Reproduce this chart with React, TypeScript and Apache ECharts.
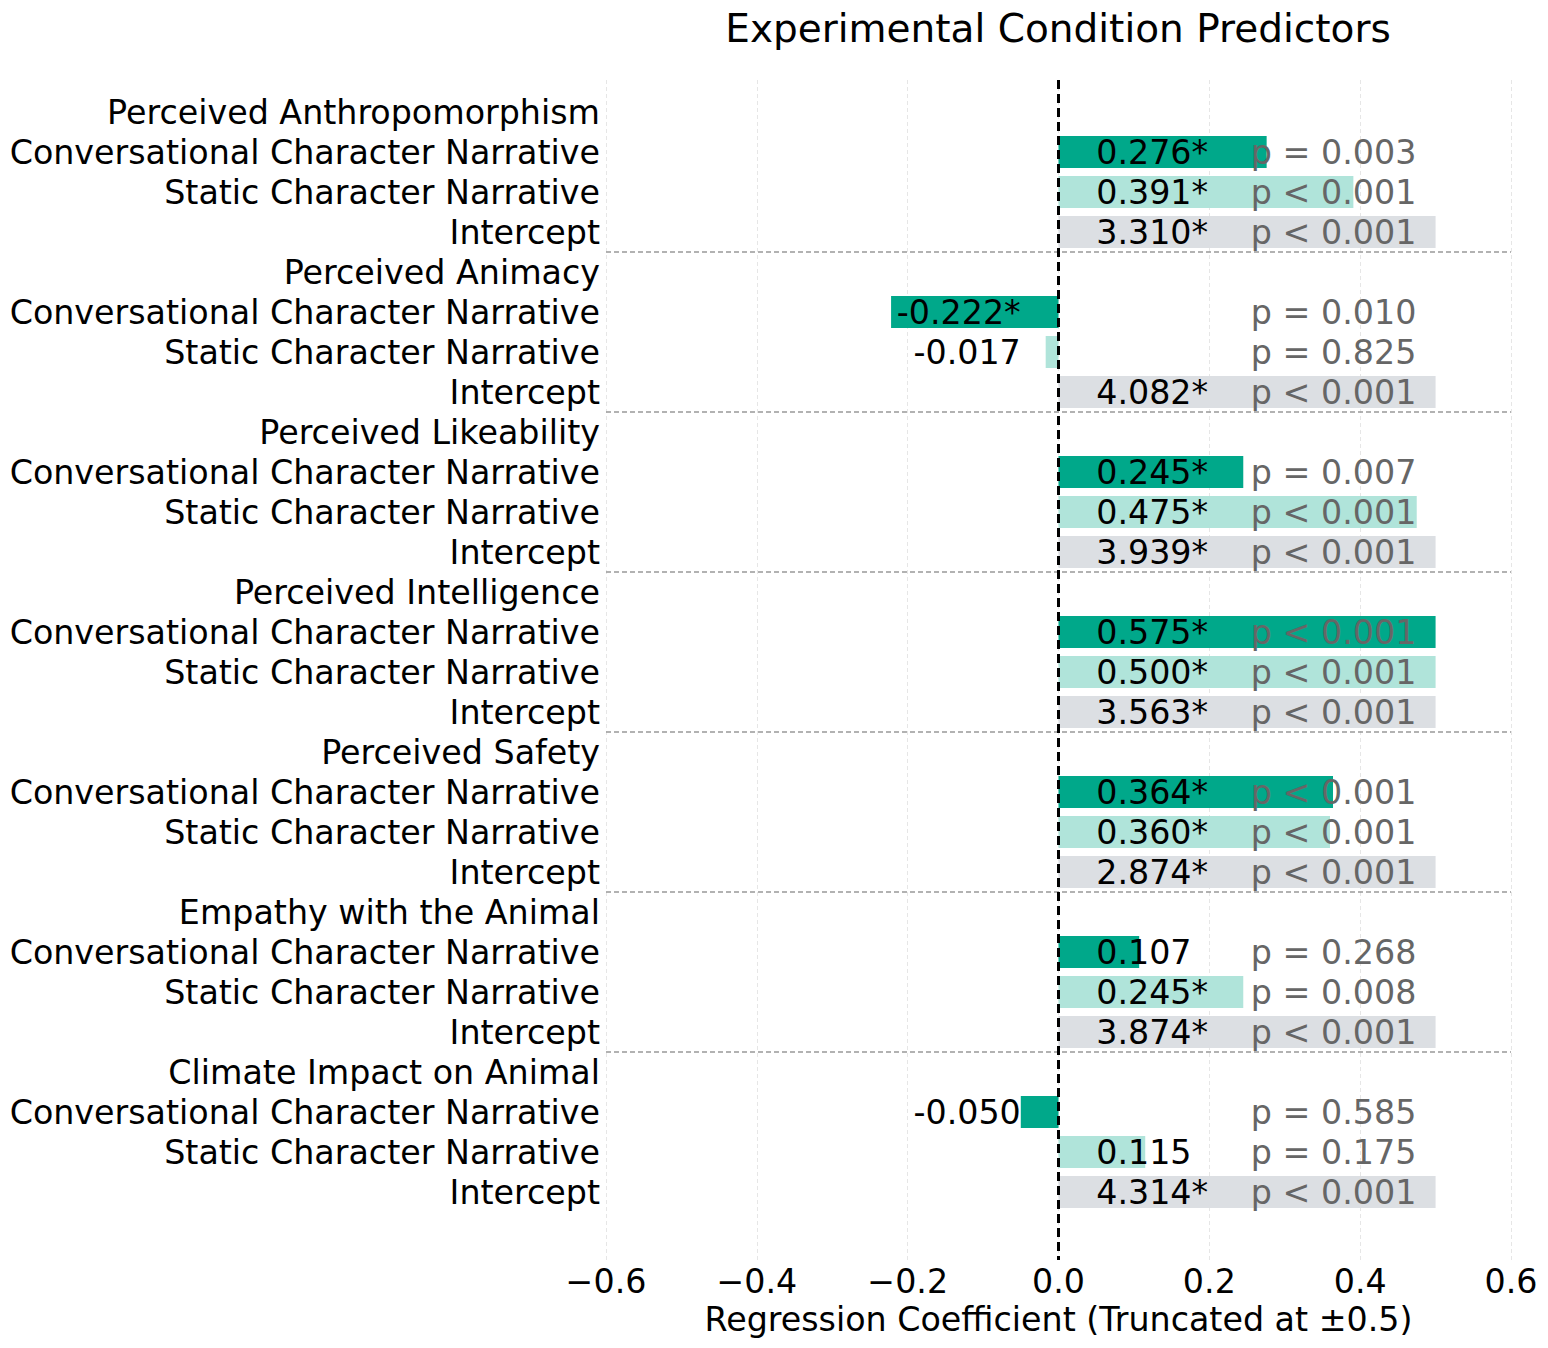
import React, { useEffect, useRef } from "react";
import * as echarts from "echarts";

const groups = [
  "Perceived Anthropomorphism",
  "Perceived Animacy",
  "Perceived Likeability",
  "Perceived Intelligence",
  "Perceived Safety",
  "Empathy with the Animal",
  "Climate Impact on Animal",
];
const predictors = ["Conversational Character Narrative", "Static Character Narrative", "Intercept"];
const coefConv = [0.276, -0.222, 0.245, 0.575, 0.364, 0.107, -0.05];
const coefStatic = [0.391, -0.017, 0.475, 0.5, 0.36, 0.245, 0.115];
const coefIntercept = [3.31, 4.082, 3.939, 3.563, 2.874, 3.874, 4.314];
const pConv = ["= 0.003", "= 0.010", "= 0.007", "< 0.001", "< 0.001", "= 0.268", "= 0.585"];
const pStatic = ["< 0.001", "= 0.825", "< 0.001", "< 0.001", "< 0.001", "= 0.008", "= 0.175"];
const pIntercept = ["< 0.001", "< 0.001", "< 0.001", "< 0.001", "< 0.001", "< 0.001", "< 0.001"];
const xTicks = [-0.6, -0.4, -0.2, 0.0, 0.2, 0.4, 0.6];
const truncation = 0.5;

const COLORS = ["#00a88a", "#b0e4da", "#dcdfe3"];
const FONT = '"DejaVu Sans", sans-serif';
const FS = 33.3;

export default function App() {
  const ref = useRef<HTMLDivElement>(null);
  useEffect(() => {
    document.body.style.margin = "0";
    const chart = echarts.init(ref.current!, null, { renderer: "svg" });

    const coefs = [coefConv, coefStatic, coefIntercept];
    const ps = [pConv, pStatic, pIntercept];
    const labelData: any[] = [];
    const barData: any[] = [];
    const sepData: number[] = [];
    groups.forEach((g, gi) => {
      const base = gi * 4;
      labelData.push([xTicks[0], base, g]);
      predictors.forEach((pr, k) => {
        const row = base + 1 + k;
        labelData.push([xTicks[0], row, pr]);
        const raw = coefs[k][gi];
        const shown = Math.max(-truncation, Math.min(truncation, raw));
        const pStr = ps[k][gi];
        const pNum = parseFloat(pStr.slice(2));
        const sig = pStr.startsWith("<") || pNum < 0.05;
        barData.push([shown, row, raw, k, pStr, sig ? 1 : 0]);
      });
      if (gi < groups.length - 1) sepData.push(base + 3.5);
    });
    const yMin = -0.8;
    const yMax = groups.length * 4 - 1 + 1.7;

    chart.setOption({
      animation: false,
      textStyle: { fontFamily: FONT },
      graphic: [
        {
          type: "text",
          x: 1058,
          y: 28,
          style: {
            text: "Experimental Condition Predictors",
            fill: "#000",
            font: `39px ${FONT}`,
            align: "center",
            verticalAlign: "middle",
          },
        },
      ],
      grid: { left: 606, right: 37, top: 80, bottom: 88 },
      xAxis: {
        type: "value",
        min: -0.6,
        max: 0.6,
        interval: 0.2,
        axisLine: { show: false },
        axisTick: { show: false },
        axisLabel: {
          fontSize: FS,
          color: "#000",
          margin: 5,
          fontFamily: FONT,
          formatter: (v: number) => (v < -1e-9 ? "\u2212" : "") + Math.abs(v).toFixed(1),
        },
        splitLine: { show: true, lineStyle: { color: "#e6e6e6", type: [4, 3], width: 1 } },
        name: "Regression Coefficient (Truncated at \u00b10.5)",
        nameLocation: "middle",
        nameGap: 42,
        nameTextStyle: { fontSize: FS, color: "#000", fontFamily: FONT },
      },
      yAxis: {
        type: "value",
        inverse: true,
        min: yMin,
        max: yMax,
        show: false,
        splitLine: { show: false },
      },
      series: [
        {
          type: "custom",
          name: "separators",
          data: sepData.map((y) => [y]),
          z: 1,
          renderItem: (params: any, api: any) => {
            const y = api.value(0);
            const a = api.coord([-0.6, y]);
            const b = api.coord([0.6, y]);
            return {
              type: "line",
              shape: { x1: a[0], y1: a[1], x2: b[0], y2: b[1] },
              style: { stroke: "#999999", lineWidth: 1.3, lineDash: [5, 3] },
            };
          },
        },
        {
          type: "custom",
          name: "bars",
          data: barData,
          z: 2,
          renderItem: (params: any, api: any) => {
            const v = api.value(0);
            const row = api.value(1);
            const raw = api.value(2);
            const k = api.value(3);
            const pStr = barData[params.dataIndex][4];
            const sig = api.value(5) === 1;
            const p0 = api.coord([0, row - 0.4]);
            const p1 = api.coord([v, row + 0.4]);
            const x = Math.min(p0[0], p1[0]);
            const y = Math.min(p0[1], p1[1]);
            const vt = api.coord([raw >= 0 ? 0.05 : -0.05, row]);
            const pt = api.coord([0.255, row]);
            return {
              type: "group",
              children: [
                {
                  type: "rect",
                  shape: { x, y, width: Math.abs(p1[0] - p0[0]), height: Math.abs(p1[1] - p0[1]) },
                  style: { fill: COLORS[k] },
                },
                {
                  type: "text",
                  style: {
                    x: vt[0],
                    y: vt[1],
                    text: raw.toFixed(3) + (sig ? "*" : ""),
                    fill: "#000",
                    font: `${FS}px ${FONT}`,
                    align: raw >= 0 ? "left" : "right",
                    verticalAlign: "middle",
                  },
                },
                {
                  type: "text",
                  style: {
                    x: pt[0],
                    y: pt[1],
                    text: "p " + pStr,
                    fill: "#666666",
                    font: `${FS}px ${FONT}`,
                    align: "left",
                    verticalAlign: "middle",
                  },
                },
              ],
            };
          },
        },
        {
          type: "custom",
          name: "zero",
          data: [[0]],
          z: 3,
          renderItem: (params: any, api: any) => {
            const a = api.coord([0, yMin]);
            const b = api.coord([0, yMax]);
            return {
              type: "line",
              shape: { x1: a[0], y1: a[1], x2: b[0], y2: b[1] },
              style: { stroke: "#000", lineWidth: 3, lineDash: [9, 5] },
            };
          },
        },
        {
          type: "custom",
          name: "rowLabels",
          data: labelData,
          z: 4,
          clip: false,
          renderItem: (params: any, api: any) => {
            const c = api.coord([api.value(0), api.value(1)]);
            return {
              type: "text",
              style: {
                x: c[0] - 6,
                y: c[1],
                text: labelData[params.dataIndex][2],
                fill: "#000",
                font: `${FS}px ${FONT}`,
                align: "right",
                verticalAlign: "middle",
              },
            };
          },
        },
      ],
    });
    return () => chart.dispose();
  }, []);
  return <div ref={ref} style={{ width: 1548, height: 1348 }} />;
}
